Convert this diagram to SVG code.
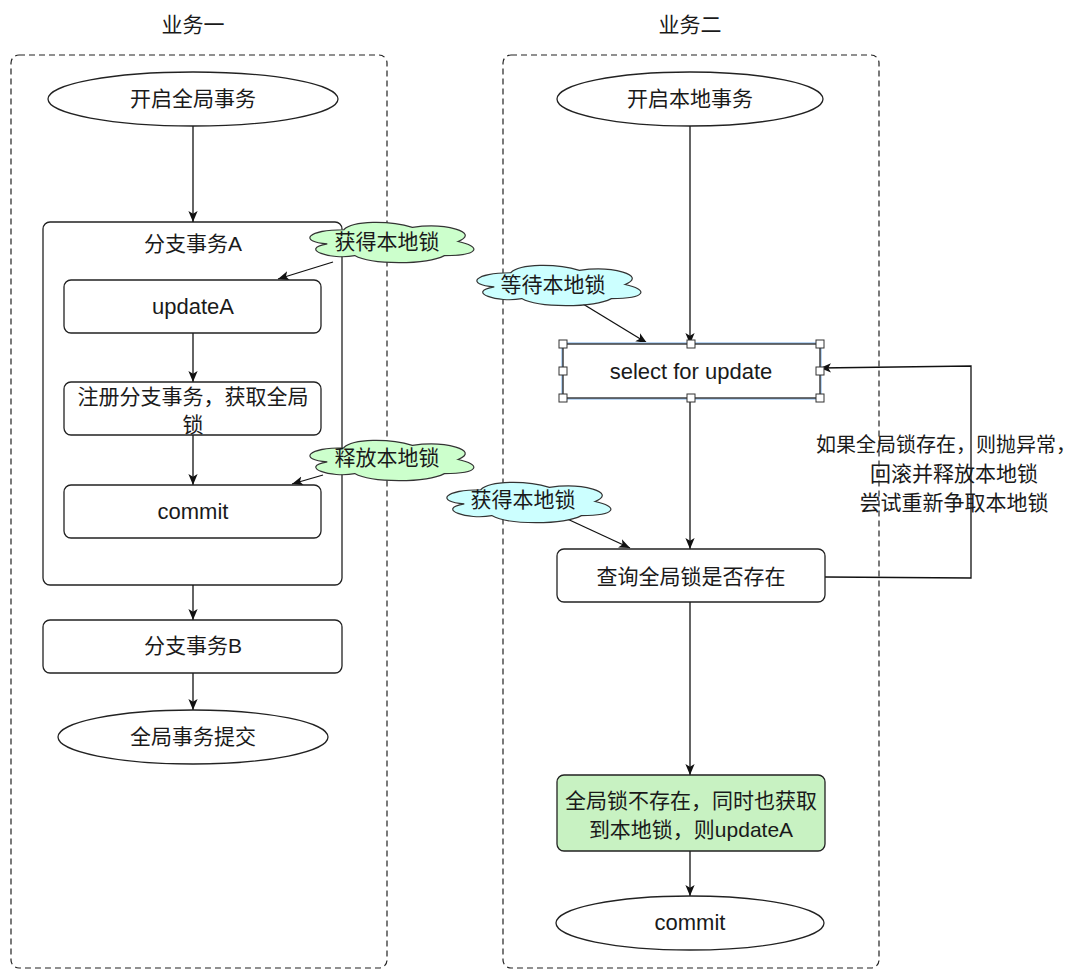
<svg xmlns="http://www.w3.org/2000/svg" width="1080" height="980" viewBox="0 0 1080 980">
<style>
text{font-family:"Liberation Sans","Noto Sans CJK SC",sans-serif;font-size:21px;fill:#1a1a1a;text-anchor:middle}
text.lat{font-size:22px}
.box{fill:#fff;stroke:#222;stroke-width:1.3}
.cont{fill:none;stroke:#222;stroke-width:1.2;stroke-dasharray:6 4}
.ln{fill:none;stroke:#111;stroke-width:1.3}
.gc{fill:#ccffcc;stroke:#333;stroke-width:1.2}
.cc{fill:#ccffff;stroke:#333;stroke-width:1.2}
.hd{fill:#fff;stroke:#333;stroke-width:1}
</style>
<defs>
<marker id="arr" viewBox="0 0 10 10" refX="10" refY="5" markerWidth="11" markerHeight="11" markerUnits="userSpaceOnUse" orient="auto">
<path d="M0,0.8 L10,5 L0,9.2 L2.5,5 z" fill="#111"/>
</marker>
<path id="cloud" d="M45.75,11.75 C9.15,11.75 0,23.5 29.28,25.85 C0,31.02 32.94,42.3 56.73,37.6 C73.2,47 128.1,47 146.4,37.6 C183,37.6 183,28.2 160.1,23.5 C183,14.1 146.4,4.7 114.4,9.4 C91.5,2.35 54.9,2.35 45.75,11.75 Z"/>
</defs>
<rect width="1080" height="980" fill="#fff"/>

<g id="titles">
<text x="193" y="32">业务一</text>
<text x="690" y="32">业务二</text>
</g>

<g id="containers">
<rect class="cont" x="11" y="55" width="376" height="913" rx="8"/>
<rect class="cont" x="503" y="55" width="376" height="913" rx="8"/>
</g>

<g id="branchA">
<rect class="box" x="43" y="222" width="299" height="363" rx="7"/>
<text x="193" y="251">分支事务A</text>
</g>

<g id="connectors">
<line class="ln" x1="193" y1="126" x2="193" y2="222" marker-end="url(#arr)"/>
<line class="ln" x1="193" y1="333" x2="193" y2="382" marker-end="url(#arr)"/>
<line class="ln" x1="193" y1="435" x2="193" y2="485" marker-end="url(#arr)"/>
<line class="ln" x1="193" y1="585" x2="193" y2="620" marker-end="url(#arr)"/>
<line class="ln" x1="193" y1="673" x2="193" y2="710" marker-end="url(#arr)"/>
<line class="ln" x1="333" y1="262" x2="278" y2="279" marker-end="url(#arr)"/>
<line class="ln" x1="323" y1="475" x2="292" y2="484" marker-end="url(#arr)"/>
<line class="ln" x1="690" y1="126" x2="690" y2="344" marker-end="url(#arr)"/>
<line class="ln" x1="583" y1="304" x2="647" y2="343" marker-end="url(#arr)"/>
<line class="ln" x1="690" y1="398" x2="690" y2="549" marker-end="url(#arr)"/>
<line class="ln" x1="563" y1="517" x2="630" y2="548" marker-end="url(#arr)"/>
<line class="ln" x1="690" y1="602" x2="690" y2="775" marker-end="url(#arr)"/>
<line class="ln" x1="690" y1="851" x2="690" y2="896" marker-end="url(#arr)"/>
<polyline class="ln" points="825,577 971,578 971,366 820,368" marker-end="url(#arr)"/>
<g id="retry-label">
<text x="946" y="452" style="font-size:20px">如果全局锁存在，则抛异常，</text>
<text x="954" y="481">回滚并释放本地锁</text>
<text x="954" y="510">尝试重新争取本地锁</text>
</g>
</g>

<g id="startGlobal">
<ellipse class="box" cx="193" cy="99" rx="145" ry="27"/>
<text x="193" y="106">开启全局事务</text>
</g>
<g id="updateA">
<rect class="box" x="64" y="280" width="257" height="53" rx="7"/>
<text class="lat" x="193" y="314">updateA</text>
</g>
<g id="register">
<rect class="box" x="64" y="382" width="257" height="53" rx="7"/>
<text x="193" y="404">注册分支事务，获取全局</text>
<text x="193" y="432">锁</text>
</g>
<g id="commitA">
<rect class="box" x="64" y="485" width="257" height="53" rx="7"/>
<text class="lat" x="193" y="519">commit</text>
</g>
<g id="branchB">
<rect class="box" x="43" y="620" width="299" height="53" rx="7"/>
<text x="193" y="653">分支事务B</text>
</g>
<g id="globalCommit">
<ellipse class="box" cx="193" cy="737" rx="135" ry="27"/>
<text x="193" y="744">全局事务提交</text>
</g>

<g id="startLocal">
<ellipse class="box" cx="690" cy="99" rx="133" ry="27"/>
<text x="690" y="106">开启本地事务</text>
</g>
<g id="selectForUpdate">
<rect x="563" y="344" width="257" height="54" fill="none" stroke="#b8d4f2" stroke-width="4"/>
<rect x="563" y="344" width="257" height="54" fill="#fff" stroke="#222" stroke-width="1.3"/>
<text class="lat" x="691" y="379">select for update</text>
<rect class="hd" x="559" y="340" width="8" height="8"/>
<rect class="hd" x="687" y="340" width="8" height="8"/>
<rect class="hd" x="816" y="340" width="8" height="8"/>
<rect class="hd" x="559" y="367" width="8" height="8"/>
<rect class="hd" x="816" y="367" width="8" height="8"/>
<rect class="hd" x="559" y="394" width="8" height="8"/>
<rect class="hd" x="687" y="394" width="8" height="8"/>
<rect class="hd" x="816" y="394" width="8" height="8"/>
</g>
<g id="checkGlobal">
<rect class="box" x="557" y="549" width="268" height="53" rx="7"/>
<text x="691" y="584">查询全局锁是否存在</text>
</g>
<g id="doUpdate">
<rect x="557" y="775" width="268" height="76" rx="7" fill="#c8f2c2" stroke="#222" stroke-width="1.3"/>
<text x="691" y="808">全局锁不存在，同时也获取</text>
<text x="691" y="837">到本地锁，则updateA</text>
</g>
<g id="commitB">
<ellipse class="box" cx="690" cy="923" rx="134" ry="27"/>
<text class="lat" x="690" y="930">commit</text>
</g>

<g id="cloud-acquire1">
<use href="#cloud" class="gc" x="298" y="218"/>
<text x="387" y="249">获得本地锁</text>
</g>
<g id="cloud-wait">
<use href="#cloud" class="cc" x="465" y="261"/>
<text x="553" y="292">等待本地锁</text>
</g>
<g id="cloud-release">
<use href="#cloud" class="gc" x="298" y="436"/>
<text x="387" y="465">释放本地锁</text>
</g>
<g id="cloud-acquire2">
<use href="#cloud" class="cc" x="435" y="478"/>
<text x="523" y="507">获得本地锁</text>
</g>
</svg>
